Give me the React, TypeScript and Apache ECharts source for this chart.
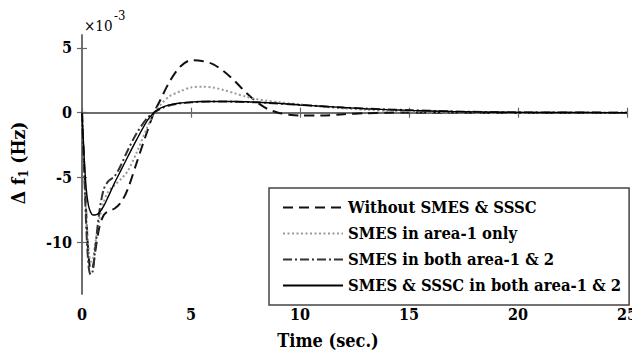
import React, { useEffect, useRef } from "react";
import * as echarts from "echarts";

const time = [0, 0.1, 0.2, 0.3, 0.4, 0.5, 0.6, 0.8, 1.0, 1.2, 1.5, 1.8, 2.1, 2.5, 3.0, 3.3, 3.6, 4.0, 4.5, 5.0, 5.5, 6.0, 6.5, 7.0, 7.5, 8.0, 8.5, 9.0, 9.5, 10, 11, 12, 13, 14, 15, 17, 19, 21, 23, 25];

const withoutSmes = [0, -4, -8, -11, -12.1, -11.9, -10.8, -8.8, -7.9, -7.6, -7.4, -6.9, -5.9, -3.9, -1.4, 0, 1.0, 2.35, 3.55, 4.05, 4.0, 3.75, 3.2, 2.45, 1.6, 0.85, 0.3, 0.0, -0.15, -0.22, -0.22, -0.12, -0.04, 0, 0.02, 0.01, 0, 0, 0, 0];

const smesArea1 = [0, -4, -8, -10.5, -11.5, -11.3, -10.2, -8.2, -6.9, -6.1, -5.6, -5.1, -4.5, -3.1, -1.1, 0, 0.6, 1.25, 1.65, 1.95, 2.0, 1.95, 1.75, 1.5, 1.25, 1.05, 0.92, 0.82, 0.72, 0.64, 0.47, 0.33, 0.23, 0.15, 0.1, 0.04, 0.01, 0, 0, 0];

const smesBoth = [0, -4.5, -9, -11.8, -12.5, -12.2, -10.6, -7.6, -5.9, -5.3, -4.9, -4.0, -2.9, -1.6, -0.4, 0, 0.3, 0.55, 0.72, 0.8, 0.85, 0.86, 0.86, 0.85, 0.83, 0.8, 0.76, 0.71, 0.66, 0.6, 0.5, 0.4, 0.32, 0.25, 0.2, 0.1, 0.05, 0.02, 0.01, 0];

const smesSsscBoth = [0, -3.5, -6, -7.2, -7.7, -7.9, -7.9, -7.7, -7.2, -6.5, -5.4, -4.4, -3.4, -2.1, -0.6, 0, 0.35, 0.6, 0.75, 0.82, 0.86, 0.87, 0.87, 0.86, 0.84, 0.81, 0.77, 0.72, 0.66, 0.6, 0.5, 0.4, 0.31, 0.24, 0.18, 0.09, 0.04, 0.02, 0.01, 0];

const seriesNames = [
  "Without SMES & SSSC",
  "SMES in area-1 only",
  "SMES in both area-1 & 2",
  "SMES & SSSC in both area-1 & 2",
];

const xTicks = [0, 5, 10, 15, 20, 25];
const yTicks = [-10, -5, 0, 5];

const FONT = "DejaVu Serif Condensed, DejaVu Serif";

const pair = (ys: number[]) => time.map((t, i) => [t, ys[i]]);

export default function App() {
  const ref = useRef<HTMLDivElement>(null);
  useEffect(() => {
    if (!ref.current) return;
    const chart = echarts.init(ref.current, null, { renderer: "svg" });
    const axisLine = { show: true, lineStyle: { color: "#666", width: 1.5 } };
    const tick = { show: true, inside: true, length: 5, lineStyle: { color: "#666", width: 1.2 } };
    const styles = [
      { color: "#111", width: 2, type: [10, 6] as any },
      { color: "#999", width: 2, type: [2, 2.5] as any },
      { color: "#333", width: 2, type: [9, 3, 2, 3] as any },
      { color: "#000", width: 1.4, type: "solid" as any },
    ];
    const datas = [withoutSmes, smesArea1, smesBoth, smesSsscBoth];
    chart.setOption({
      animation: false,
      backgroundColor: "#fff",
      grid: { left: 82, right: 10, top: 35, bottom: 64, show: false },
      xAxis: [
        {
          type: "value",
          min: 0,
          max: 25,
          interval: 5,
          axisLine,
          axisTick: { ...tick, customValues: xTicks },
          splitLine: { show: false },
          axisLabel: {
            margin: 12,
            fontFamily: FONT,
            fontWeight: "bold",
            fontSize: 16,
            color: "#000",
            customValues: xTicks,
          },
        },
        {
          type: "value",
          position: "top",
          min: 0,
          max: 25,
          interval: 5,
          axisLine,
          axisTick: tick,
          splitLine: { show: false },
          axisLabel: { show: false },
        },
      ],
      yAxis: [
        {
          type: "value",
          min: -14,
          max: 6,
          axisLine,
          axisTick: { ...tick, customValues: yTicks },
          splitLine: { show: false },
          axisLabel: {
            margin: 10,
            fontFamily: FONT,
            fontWeight: "bold",
            fontSize: 16,
            color: "#000",
            customValues: yTicks,
          },
        },
        {
          type: "value",
          position: "right",
          min: -14,
          max: 6,
          axisLine,
          axisTick: { ...tick, customValues: yTicks },
          splitLine: { show: false },
          axisLabel: { show: false },
        },
      ],
      legend: {
        orient: "vertical",
        left: 269,
        top: 188,
        padding: [11, 8, 11, 13],
        itemGap: 9,
        itemWidth: 60,
        itemHeight: 14,
        borderColor: "#444",
        borderWidth: 1.5,
        backgroundColor: "#fff",
        itemStyle: { opacity: 0 },
        data: seriesNames,
        textStyle: { fontFamily: FONT, fontWeight: "bold", fontSize: 16.5, color: "#000" },
      },
      series: seriesNames.map((name, i) => ({
        name,
        type: "line",
        data: pair(datas[i]),
        symbol: "none",
        showSymbol: false,
        smooth: 0.3,
        lineStyle: styles[i],
        itemStyle: { color: styles[i].color },
        z: 2 + i,
      })),
      graphic: [
        {
          type: "text",
          left: 84,
          top: 18,
          style: { text: "×10", fontFamily: FONT, fontSize: 15, fill: "#000" },
        },
        {
          type: "text",
          left: 114,
          top: 9,
          style: { text: "-3", fontFamily: FONT, fontSize: 13, fill: "#000" },
        },
        {
          type: "text",
          x: 328,
          y: 340,
          style: {
            text: "Time (sec.)",
            fontFamily: FONT,
            fontWeight: "bold",
            fontSize: 18,
            fill: "#000",
            align: "center",
            verticalAlign: "middle",
          },
        },
        {
          type: "text",
          x: 18,
          y: 163,
          rotation: Math.PI / 2,
          style: {
            text: "{a|Δ f}{s|1}{a| (Hz)}",
            align: "center",
            verticalAlign: "middle",
            rich: {
              a: { fontFamily: FONT, fontWeight: "bold", fontSize: 19, fill: "#000", color: "#000" },
              s: { fontFamily: FONT, fontWeight: "bold", fontSize: 13, fill: "#000", color: "#000", padding: [10, 0, 0, 0] },
            },
          },
        },
      ],
    });
    return () => chart.dispose();
  }, []);
  return <div ref={ref} style={{ width: 640, height: 358, margin: -8 }} />;
}
